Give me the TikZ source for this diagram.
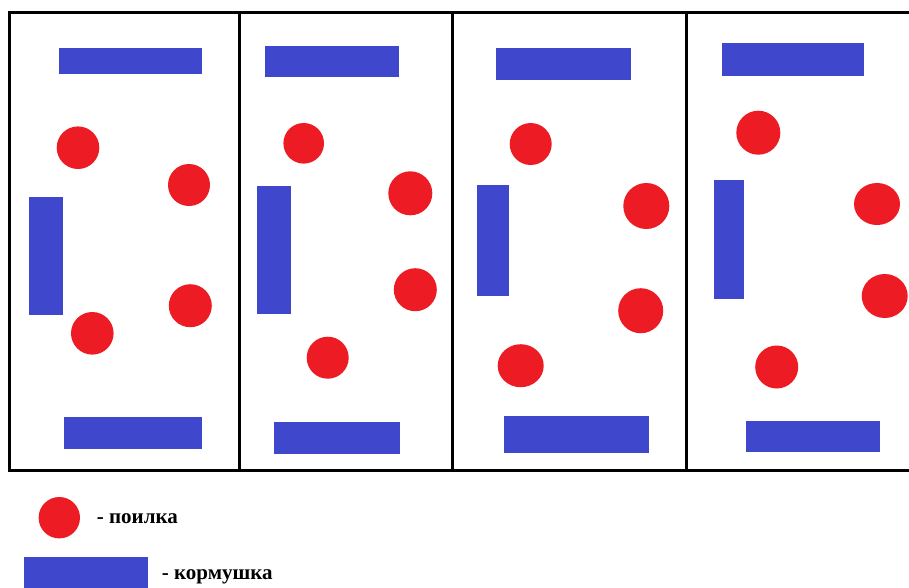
\documentclass[tikz,border=0pt]{standalone}
\usepackage{fontspec}
\setmainfont{Liberation Serif}
\definecolor{paintred}{RGB}{237,28,36}
\definecolor{paintblue}{RGB}{63,72,204}
\begin{document}
\begin{tikzpicture}[x=1pt,y=-1pt,
  feeder/.style={fill=paintblue},
  drinker/.style={fill=paintred},
  wall/.style={line width=3pt,draw=black},
  legendtext/.style={anchor=base west,inner sep=0pt,font=\fontsize{21}{25}\selectfont\bfseries}]
\useasboundingbox[fill=white] (0,0) rectangle (909,587);
% walls
\draw[wall] (909,12.5) -- (9,12.5) -- (9,470) -- (909,470);
\draw[wall] (239,12.5) -- (239,470);
\draw[wall] (452.5,12.5) -- (452.5,470);
\draw[wall] (686.5,12.5) -- (686.5,470);
% cell 1
\fill[feeder] (59.3,47.7) rectangle (201.7,74);
\fill[feeder] (28.7,196.7) rectangle (62.7,315.3);
\fill[feeder] (63.7,417.3) rectangle (201.7,448.7);
\fill[drinker] (78,147.7) circle (21.3pt);
\fill[drinker] (189,185) circle (21pt);
\fill[drinker] (92.3,333.3) circle (21.3pt);
\fill[drinker] (190.3,305.7) circle (21.5pt);
% cell 2
\fill[feeder] (265.3,45.7) rectangle (399,77);
\fill[feeder] (256.7,186.3) rectangle (290.7,314);
\fill[feeder] (274,421.7) rectangle (400.3,454.3);
\fill[drinker] (303.7,143.3) circle (20.3pt);
\fill[drinker] (410.3,193.3) circle (22pt);
\fill[drinker] (415.3,289.7) circle (21.5pt);
\fill[drinker] (327.7,357.7) circle (21pt);
% cell 3
\fill[feeder] (496.3,47.7) rectangle (631.3,80);
\fill[feeder] (477.3,185) rectangle (508.7,296.3);
\fill[feeder] (503.7,416) rectangle (649,453);
\fill[drinker] (530.7,144) circle (21pt);
\fill[drinker] (646.3,206) circle (23pt);
\fill[drinker] (640.7,310.7) circle (22.5pt);
\fill[drinker] (520.7,365.7) ellipse (23pt and 21.5pt);
% cell 4
\fill[feeder] (721.7,43) rectangle (863.7,75.7);
\fill[feeder] (714,180.3) rectangle (743.7,299.3);
\fill[feeder] (746,420.7) rectangle (880,451.7);
\fill[drinker] (758.3,132.7) circle (22pt);
\fill[drinker] (877,204) ellipse (23pt and 21pt);
\fill[drinker] (884.7,296) ellipse (23pt and 22pt);
\fill[drinker] (776.7,367) circle (21.5pt);
% legend
\fill[drinker] (59.3,517.7) circle (20.7pt);
\node[legendtext] (ldrink) at (96.7,523.3) {- поилка};
\fill[feeder] (24,557.3) rectangle (147.7,590);
\node[legendtext] (lfeed) at (161.7,579) {- кормушка};
\end{tikzpicture}
\end{document}
